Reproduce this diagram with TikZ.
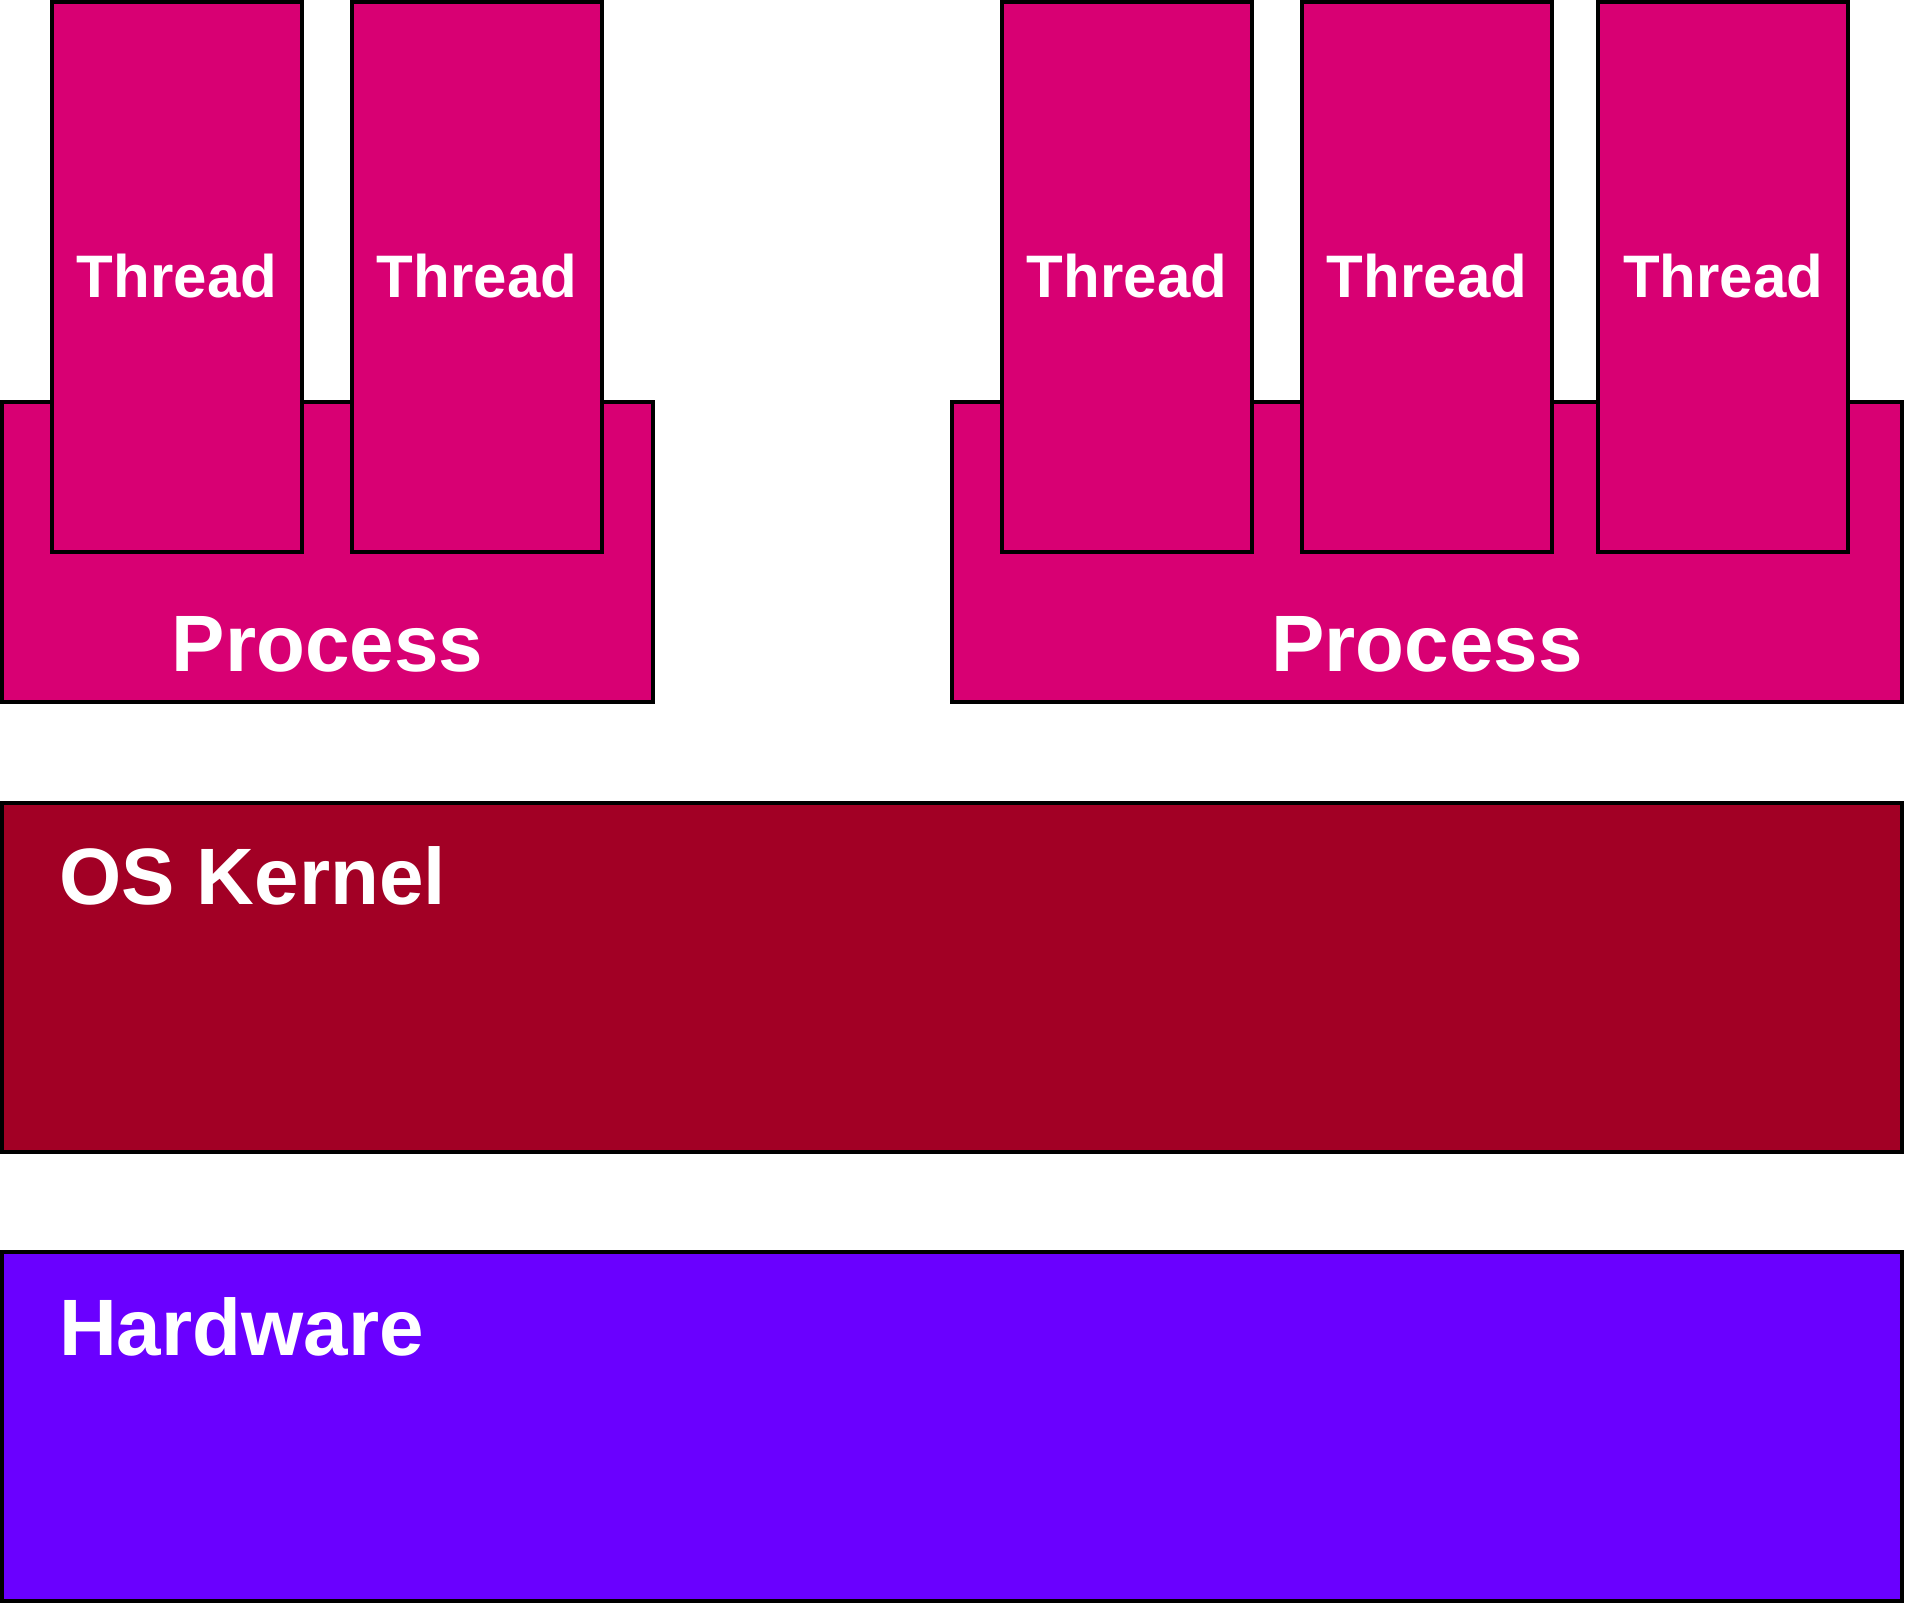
\documentclass[tikz,border=0pt]{standalone}
\usepackage{fontspec}
\setmainfont{Liberation Sans}
\definecolor{procpink}{HTML}{D80073}
\definecolor{kernred}{HTML}{A20025}
\definecolor{hwviolet}{HTML}{6A00FF}
\tikzset{
  box/.style={draw=black,line width=4pt,rectangle,inner sep=0pt},
  bigtext/.style={text=white,font=\fontsize{80}{96}\selectfont\bfseries,inner sep=0pt},
  thrtext/.style={text=white,font=\fontsize{60}{72}\selectfont\bfseries}
}
\begin{document}
\begin{tikzpicture}[x=1pt,y=-1pt]
\useasboundingbox (0,0) rectangle (1905,1605);

\begin{scope}[every node/.style={box,fill=procpink}]
\node[minimum width=651pt,minimum height=300pt] (P1) at (327.5,552) {};
\node[minimum width=950pt,minimum height=300pt] (P2) at (1427,552) {};
\end{scope}

\begin{scope}[every node/.style={box,fill=procpink,thrtext,minimum width=250pt,minimum height=550pt}]
\node (T1) at (177,277) {\raisebox{2pt}{Thread}};
\node (T2) at (477,277) {\raisebox{2pt}{Thread}};
\node (T3) at (1127,277) {\raisebox{2pt}{Thread}};
\node (T4) at (1427,277) {\raisebox{2pt}{Thread}};
\node (T5) at (1723,277) {\raisebox{2pt}{Thread}};
\end{scope}

\node[box,fill=kernred,minimum width=1900pt,minimum height=349pt] (K) at (952,977.5) {};
\node[box,fill=hwviolet,minimum width=1900pt,minimum height=349pt] (H) at (952,1426.5) {};

\begin{scope}[every node/.style={bigtext}]
\node[anchor=base] (P1lbl) at ([yshift=33pt]P1.south) {Process};
\node[anchor=base] (P2lbl) at ([yshift=33pt]P2.south) {Process};
\node[anchor=base west] (Klbl) at ([xshift=59pt,yshift=-103pt]K.north west) {OS Kernel};
\node[anchor=base west] (Hlbl) at ([xshift=59pt,yshift=-105pt]H.north west) {Hardware};
\end{scope}
\end{tikzpicture}
\end{document}
